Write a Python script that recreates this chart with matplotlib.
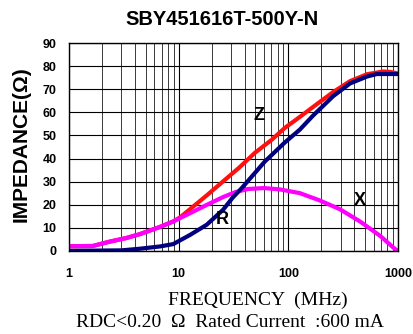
import numpy as np
import matplotlib
matplotlib.use("Agg")
import matplotlib.pyplot as plt
from matplotlib.ticker import FixedLocator, NullFormatter

# Frequency (MHz) and impedance (ohm)
freq_x = [1, 1.65, 2.36, 3.3, 4.4, 6.7, 8.9, 12.7, 18, 25.4, 32.6, 43, 60, 84, 127,
          194, 295, 450, 685, 930, 1000]
x_vals = [2.0, 2.1, 4.0, 5.5, 7.2, 10.3, 12.7, 16.3, 19.9, 23.3, 25.4, 26.8, 27.2, 26.6, 25.0,
          21.8, 18.0, 12.7, 6.5, 0.9, 0.0]

freq_r = [1, 3, 4.4, 6.75, 8.9, 12.7, 18, 25.4, 31, 37.6, 61, 93, 127, 167, 256, 364, 520,
          640, 1000]
r_vals = [0.0, 0.2, 0.9, 1.9, 2.9, 6.9, 11.3, 17.8, 23.0, 27.2, 38.7, 47.0, 52.5, 58.5, 67.0,
          72.5, 75.5, 76.6, 76.6]

freq_z = [1, 1.65, 2.36, 3.3, 4.4, 6.7, 8.9, 10.3, 18, 26, 35.5, 49.6, 70, 93, 127, 181,
          256, 364, 520, 730, 850, 1000]
z_vals = [2.0, 2.1, 4.0, 5.5, 7.2, 10.3, 12.7, 14.5, 24.0, 30.5, 36.0, 42.5, 48.0, 53.3, 58.0,
          63.5, 68.8, 73.5, 76.5, 77.7, 77.5, 76.8]

xticks = [1, 10, 100, 1000]
yticks = list(range(0, 100, 10))

fig = plt.figure(figsize=(4.13, 3.34), dpi=100)
ax = fig.add_axes([0.167, 0.249, 0.797, 0.622])

ax.plot(freq_z, z_vals, color="#ff1010", linewidth=3.0, solid_capstyle="butt")
ax.plot(freq_x, x_vals, color="#ff00ff", linewidth=3.0, solid_capstyle="butt")
ax.plot(freq_r, r_vals, color="#000080", linewidth=3.0, solid_capstyle="butt")

ax.set_xscale("log")
ax.set_xlim(1, 1000)
ax.set_ylim(0, 90)
ax.xaxis.set_major_locator(FixedLocator(xticks))
ax.xaxis.set_minor_locator(FixedLocator([m * 10 ** d for d in range(3) for m in range(2, 10)]))
ax.xaxis.set_minor_formatter(NullFormatter())
ax.set_xticklabels([str(t) for t in xticks])
ax.set_yticks(yticks)
ax.grid(which="major", color="black", linewidth=0.8)
ax.grid(which="minor", axis="x", color="#3a3a3a", linewidth=0.7)
ax.set_axisbelow(True)
ax.tick_params(which="both", length=0)
ax.tick_params(axis="both", labelsize=9)
ax.tick_params(axis="x", pad=12)
ax.tick_params(axis="y", pad=9)
for lbl in ax.get_xticklabels() + ax.get_yticklabels():
    lbl.set_fontweight("bold")
    lbl.set_family("Liberation Sans")
for s in ax.spines.values():
    s.set_linewidth(1.0)

ax.text(54, 58.5, "Z", fontsize=13, fontweight="bold", family="Liberation Sans", ha="center", va="center")
ax.text(24.8, 13.4, "R", fontsize=13, fontweight="bold", family="Liberation Sans", ha="center", va="center")
ax.text(450, 21.7, "X", fontsize=13, fontweight="bold", family="Liberation Sans", ha="center", va="center")

fig.text(0.537, 0.943, "SBY451616T-500Y-N", fontsize=14.5, fontweight="bold",
         family="Liberation Sans", ha="center", va="center")
fig.text(0.051, 0.567, "IMPEDANCE(Ω)", fontsize=15, fontweight="bold", rotation=90,
         family="Liberation Sans", ha="center", va="center")
fig.text(0.625, 0.102, "FREQUENCY  (MHz)", fontsize=14, family="Liberation Serif",
         ha="center", va="center")
fig.text(0.557, 0.033, "RDC<0.20  Ω  Rated Current  :600 mA", fontsize=14,
         family="Liberation Serif", ha="center", va="center")

fig.savefig("out.png", dpi=100)
